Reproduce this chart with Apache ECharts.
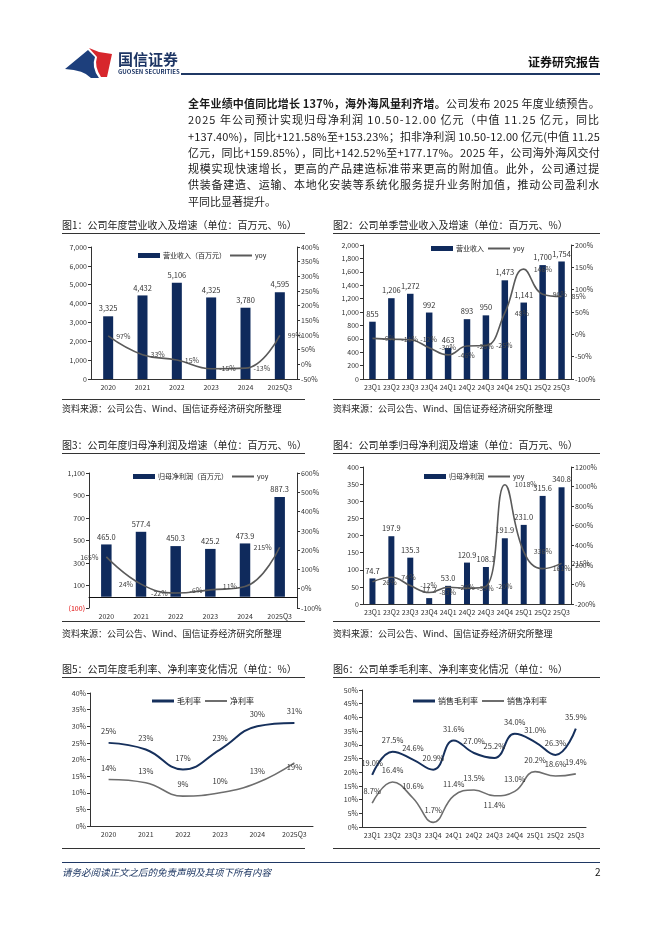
<!DOCTYPE html>
<html><head><meta charset="utf-8">
<script src="https://cdn.jsdelivr.net/npm/echarts@6/dist/echarts.min.js"></script>
<style>
html,body{margin:0;padding:0;background:#fff;}
#page{position:relative;width:662px;height:936px;overflow:hidden;font-family:"Noto Sans CJK SC",sans-serif;color:#222;}
.chart{position:absolute;left:0;top:0;width:662px;height:936px;}
.abs{position:absolute;white-space:nowrap;}
.hl{position:absolute;height:0;border-top:1px solid #333;}
.jl{position:absolute;left:188px;white-space:nowrap;font-size:11px;line-height:14px;color:#1a1a1a;}
.ttl{position:absolute;white-space:nowrap;font-size:10px;line-height:14px;color:#222;}
.src{position:absolute;white-space:nowrap;font-size:9px;line-height:12px;color:#222;}
</style></head>
<body>
<div id="page">
  <div id="c1" class="chart"></div>
  <div id="c2" class="chart"></div>
  <div id="c3" class="chart"></div>
  <div id="c4" class="chart"></div>
  <div id="c5" class="chart"></div>
  <div id="c6" class="chart"></div>

  <svg class="abs" style="left:0;top:0" width="662" height="100">
    <path d="M65 69 L88 50 L95 57 Q91 67 99 78 L91 78 Q84 70 65 69 Z" fill="#1d3f7c"/>
    <path d="M89 48 L99 52 L112 54 L107 77 L101 77 Q94 66 97 57 Z" fill="#d7262c"/>
  </svg>
  <div class="abs" style="left:118px;top:50px;font-size:15px;line-height:18px;font-weight:bold;color:#1d3564;">国信证券</div>
  <div class="abs" style="left:118px;top:68px;font-size:6px;line-height:8px;font-weight:bold;color:#1d3564;">GUOSEN SECURITIES</div>
  <div class="abs" style="right:62px;top:54px;font-size:12px;line-height:16px;font-weight:bold;color:#111;">证券研究报告</div>
  <div class="abs" style="left:181px;top:73px;width:419px;height:2px;background:#1f3864;"></div>

  <span class="jl" style="top:96px"><b>全年业绩中值同比增长 137%，海外海风量利齐增。</b>公司发布 2025 年度业绩预告。</span>
  <span class="jl" style="top:112px">2025 年公司预计实现归母净利润 10.50-12.00 亿元（中值 11.25 亿元，同比</span>
  <span class="jl" style="top:128.5px">+137.40%)，同比+121.58%至+153.23%；扣非净利润 10.50-12.00 亿元(中值 11.25</span>
  <span class="jl" style="top:144.8px">亿元，同比+159.85%），同比+142.52%至+177.17%。2025 年，公司海外海风交付</span>
  <span class="jl" style="top:161px">规模实现快速增长，更高的产品建造标准带来更高的附加值。此外，公司通过提</span>
  <span class="jl" style="top:177.3px">供装备建造、运输、本地化安装等系统化服务提升业务附加值，推动公司盈利水</span>
  <span class="jl nojust" style="top:193.5px">平同比显著提升。</span>

  <div class="ttl" style="left:62px;top:218px">图1：公司年度营业收入及增速（单位：百万元、%）</div>
  <div class="ttl" style="left:333px;top:218px">图2：公司单季营业收入及增速（单位：百万元、%）</div>
  <div class="hl" style="left:62px;top:233px;width:243px"></div>
  <div class="hl" style="left:333px;top:233px;width:267px"></div>
  <div class="hl" style="left:62px;top:399px;width:243px"></div>
  <div class="hl" style="left:333px;top:399px;width:267px"></div>
  <div class="src" style="left:62px;top:403px">资料来源：公司公告、Wind、国信证券经济研究所整理</div>
  <div class="src" style="left:333px;top:403px">资料来源：公司公告、Wind、国信证券经济研究所整理</div>

  <div class="ttl" style="left:62px;top:438px">图3：公司年度归母净利润及增速（单位：百万元、%）</div>
  <div class="ttl" style="left:333px;top:438px">图4：公司单季归母净利润及增速（单位：百万元、%）</div>
  <div class="hl" style="left:62px;top:453px;width:243px"></div>
  <div class="hl" style="left:333px;top:453px;width:267px"></div>
  <div class="hl" style="left:62px;top:621px;width:243px"></div>
  <div class="hl" style="left:333px;top:621px;width:267px"></div>
  <div class="src" style="left:62px;top:628px">资料来源：公司公告、Wind、国信证券经济研究所整理</div>
  <div class="src" style="left:333px;top:628px">资料来源：公司公告、Wind、国信证券经济研究所整理</div>

  <div class="ttl" style="left:62px;top:662px">图5：公司年度毛利率、净利率变化情况（单位：%）</div>
  <div class="ttl" style="left:333px;top:662px">图6：公司单季毛利率、净利率变化情况（单位：%）</div>
  <div class="hl" style="left:62px;top:677px;width:243px"></div>
  <div class="hl" style="left:333px;top:677px;width:267px"></div>
  <div class="hl" style="left:62px;top:848px;width:243px"></div>
  <div class="hl" style="left:333px;top:848px;width:267px"></div>

  <div class="abs" style="left:62px;top:862px;width:538px;height:0;border-top:1px solid #1f3864;"></div>
  <div class="abs" style="left:62px;top:866px;font-size:9.5px;line-height:12px;font-style:italic;color:#1f3864;">请务必阅读正文之后的免责声明及其项下所有内容</div>
  <div class="abs" style="left:595px;top:865px;font-size:10px;line-height:13px;color:#111;">2</div>
</div>
<script>
// ---------- data ----------
const annualYears = ['2020','2021','2022','2023','2024','2025Q3'];
const quarters = ['23Q1','23Q2','23Q3','23Q4','24Q1','24Q2','24Q3','24Q4','25Q1','25Q2','25Q3'];
const annualRevenue = [3325,4432,5106,4325,3780,4595];
const annualRevenueYoy = [97,33,15,-15,-13,99];
const quarterRevenue = [855,1206,1272,992,463,893,950,1473,1141,1700,1754];
const quarterRevenueYoy = [-9,-11,-12,-30,-46,-26,-25,48,146,90,85];
const annualProfit = [465.0,577.4,450.3,425.2,473.9,887.3];
const annualProfitYoy = [165,24,-22,-6,11,215];
const quarterProfit = [74.7,197.9,135.3,17.2,53.0,120.9,108.1,191.9,231.0,315.6,340.8];
const quarterProfitYoy = [26,74,-12,-83,-29,-39,-20,1018,336,161,215];
const annualGrossMargin = [25,23,17,23,30,31];
const annualNetMargin = [14,13,9,10,13,19];
const quarterGrossMargin = [19.0,27.5,24.6,20.9,31.6,27.0,25.2,34.0,31.0,26.3,35.9];
const quarterNetMargin = [8.7,16.4,10.6,1.7,11.4,13.5,11.4,13.0,20.2,18.6,19.4];

// ---------- justify paragraph ----------
document.querySelectorAll('.jl').forEach(el => {
  if (el.classList.contains('nojust')) return;
  const w = el.getBoundingClientRect().width;
  const n = el.textContent.length;
  el.style.letterSpacing = ((412 - w) / n) + 'px';
});

// ---------- styles ----------
const FONT = 'Noto Sans CJK SC';
const NAVY = '#0f2a5c';
const GRAY = '#5a5a5a';
const AX = '#333';
const LINE_ICON = 'path://M0,0H22V2H0Z';
const LINE_ICON_THICK = 'path://M0,0H22V3H0Z';
const thou = v => Math.round(v).toString().replace(/\B(?=(\d{3})+(?!\d))/g, ',');
const pct = v => v + '%';
function yAx(o) {
  return Object.assign({
    type: 'value',
    axisLine: {show: true, lineStyle: {color: AX, width: 1}},
    axisTick: {show: true, length: 3, lineStyle: {color: AX}},
    splitLine: {show: false},
    axisLabel: {fontSize: 7, color: '#333', margin: 4, fontFamily: FONT}
  }, o);
}
function xAx(data, o) {
  return Object.assign({
    type: 'category', data: data,
    axisLine: {show: true, lineStyle: {color: AX, width: 1}},
    axisTick: {show: false},
    axisLabel: {fontSize: 7, color: '#333', margin: 5, interval: 0, fontFamily: FONT}
  }, o || {});
}
function legend(left, top, items, fs) {
  return {
    left: left, top: top, itemWidth: 22, itemHeight: 5, itemGap: 4,
    textStyle: {fontSize: fs || 7, color: '#222', fontFamily: FONT, padding: [0, 0, 0, -2]},
    data: items
  };
}
function barLineOption(c) {
  return {
    animation: false,
    textStyle: {fontFamily: FONT},
    grid: c.grid,
    legend: legend(c.legLeft, c.legTop, [{name: c.barName, icon: 'rect'}, {name: 'yoy', icon: LINE_ICON}]),
    xAxis: xAx(c.cats, c.xExtra),
    yAxis: [
      yAx({min: c.lmin, max: c.lmax, interval: c.lint, position: 'left',
           axisLabel: Object.assign({fontSize: 7, color: '#333', margin: 4, fontFamily: FONT}, c.lLabel)}),
      yAx({min: c.rmin, max: c.rmax, interval: c.rint, position: 'right',
           axisLabel: {fontSize: 7, color: '#333', margin: 4, fontFamily: FONT, formatter: pct}})
    ],
    series: [
      {name: c.barName, type: 'bar', data: c.bars, yAxisIndex: 0, barWidth: c.barWidth,
       itemStyle: {color: NAVY},
       label: {show: true, position: 'top', distance: 4, fontSize: 7.5, color: '#333', fontFamily: FONT,
               formatter: p => c.barFmt(p.value)}},
      {name: 'yoy', type: 'line', data: c.yoy, yAxisIndex: 1, smooth: 0.45,
       symbol: 'circle', symbolSize: 0.01, showSymbol: true, showAllSymbol: true,
       lineStyle: {color: GRAY, width: 1.6}, itemStyle: {color: GRAY},
       label: {show: true, position: c.yoyPos || 'right', distance: c.yoyDist || 9, fontSize: 7, color: '#444', fontFamily: FONT,
               formatter: p => p.value + '%'}}
    ]
  };
}

// chart 1
echarts.init(document.getElementById('c1')).setOption(barLineOption({
  grid: {left: 91, top: 247, width: 206, height: 132},
  legLeft: 133, legTop: 247, barName: '营业收入（百万元）',
  cats: annualYears, bars: annualRevenue, yoy: annualRevenueYoy, barWidth: 10,
  lmin: 0, lmax: 7000, lint: 1000, lLabel: {formatter: v => thou(v)},
  rmin: -50, rmax: 400, rint: 50, barFmt: v => thou(v), yoyDist: 8
}));

// chart 2
echarts.init(document.getElementById('c2')).setOption(barLineOption({
  grid: {left: 363, top: 245, width: 208, height: 134},
  legLeft: 426, legTop: 240, barName: '营业收入',
  cats: quarters, bars: quarterRevenue, yoy: quarterRevenueYoy, barWidth: 6.5,
  lmin: 0, lmax: 2000, lint: 200, lLabel: {formatter: v => thou(v)},
  rmin: -100, rmax: 200, rint: 50, barFmt: v => thou(v), yoyDist: 10
}));

// chart 3
echarts.init(document.getElementById('c3')).setOption(barLineOption({
  grid: {left: 89, top: 473, width: 208, height: 135},
  legLeft: 128, legTop: 468, barName: '归母净利润（百万元）',
  cats: annualYears, bars: annualProfit, yoy: annualProfitYoy, barWidth: 10.5,
  xExtra: {axisLine: {show: true, onZero: true, onZeroAxisIndex: 0, lineStyle: {color: '#111', width: 1}}},
  lmin: -100, lmax: 1100, lint: 200,
  lLabel: {formatter: v => v < 0 ? '{neg|(' + thou(-v) + ')}' : thou(v), rich: {neg: {color: '#e00000', fontSize: 7}}},
  rmin: -100, rmax: 600, rint: 100, barFmt: v => v.toFixed(1), yoyPos: 'left', yoyDist: 8
}));

// chart 4
echarts.init(document.getElementById('c4')).setOption(barLineOption({
  grid: {left: 363, top: 467, width: 208, height: 137},
  legLeft: 419, legTop: 468, barName: '归母净利润',
  cats: quarters, bars: quarterProfit, yoy: quarterProfitYoy, barWidth: 6,
  lmin: 0, lmax: 400, lint: 50, lLabel: {},
  rmin: -200, rmax: 1200, rint: 200, barFmt: v => v.toFixed(1), yoyDist: 10
}));

// margin charts
function marginOption(c) {
  const netData = c.net.map((v, i) => {
    const o = {value: v};
    if (c.netSpecial && c.netSpecial[i]) o.label = c.netSpecial[i];
    return o;
  });
  const common = {type: 'line', smooth: 0.45, symbol: 'circle', symbolSize: 0.01, showSymbol: true, showAllSymbol: true};
  return {
    animation: false,
    textStyle: {fontFamily: FONT},
    grid: c.grid,
    legend: legend(c.legLeft, c.legTop, [{name: c.gName, icon: LINE_ICON_THICK}, {name: c.nName, icon: LINE_ICON}], 8),
    xAxis: xAx(c.cats),
    yAxis: yAx({min: 0, max: c.max, interval: 5, axisLabel: {fontSize: 7, color: '#333', margin: 4, fontFamily: FONT, formatter: pct}}),
    series: [
      Object.assign({name: c.gName, data: c.gross,
       lineStyle: {color: '#16305c', width: 2}, itemStyle: {color: '#16305c'},
       label: {show: true, position: 'top', distance: 8, fontSize: 7.5, color: '#333', fontFamily: FONT,
               formatter: p => c.fmt(p.value)}}, common),
      Object.assign({name: c.nName, data: netData,
       lineStyle: {color: '#6e6e6e', width: 1.6}, itemStyle: {color: '#6e6e6e'},
       label: {show: true, position: 'top', distance: 8, fontSize: 7.5, color: '#333', fontFamily: FONT,
               formatter: p => c.fmt(p.value)}}, common)
    ]
  };
}

echarts.init(document.getElementById('c5')).setOption(marginOption({
  grid: {left: 90, top: 693, width: 223, height: 133},
  legLeft: 147, legTop: 692, gName: '毛利率', nName: '净利率',
  cats: annualYears, gross: annualGrossMargin, net: annualNetMargin, max: 40,
  fmt: v => v + '%', netSpecial: {5: {position: 'bottom', distance: 1}}
}));

echarts.init(document.getElementById('c6')).setOption(marginOption({
  grid: {left: 362, top: 690, width: 224, height: 137},
  legLeft: 408, legTop: 692, gName: '销售毛利率', nName: '销售净利率',
  cats: quarters, gross: quarterGrossMargin, net: quarterNetMargin, max: 50,
  fmt: v => v.toFixed(1) + '%', netSpecial: {6: {position: 'bottom', distance: 6}}
}));
</script>
</body></html>
